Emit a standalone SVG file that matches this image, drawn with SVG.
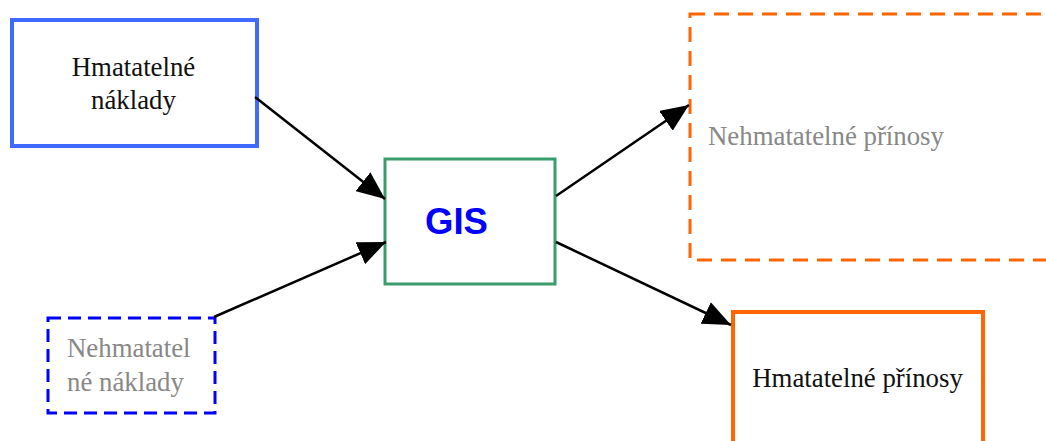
<svg xmlns="http://www.w3.org/2000/svg" width="1046" height="441" viewBox="0 0 1046 441">
  <style>
    .serif { font-family: "Liberation Serif", "Times New Roman", serif; font-size: 26.8px; }
    .dark { fill: #111111; }
    .gray { fill: #888888; }
    .conn { stroke: #000000; stroke-width: 2.5; fill: none; marker-end: url(#arrow); }
  </style>
  <defs>
    <marker id="arrow" viewBox="0 0 28 24" refX="28" refY="12" markerWidth="28" markerHeight="24" markerUnits="userSpaceOnUse" orient="auto">
      <path d="M0,0 L28,12 L0,24 Z" fill="#000000"/>
    </marker>
  </defs>
  <rect width="1046" height="441" fill="#ffffff"/>

  <g id="node-hmatatelne-naklady">
    <rect x="12" y="20" width="245" height="126" fill="none" stroke="#3F6BFF" stroke-width="4"/>
    <text class="serif dark" x="133.5" y="76" text-anchor="middle">Hmatatelné</text>
    <text class="serif dark" x="133.5" y="109" text-anchor="middle">náklady</text>
  </g>

  <g id="node-nehmatatelne-naklady">
    <rect x="48" y="318" width="167" height="95" fill="none" stroke="#0000FF" stroke-width="3" stroke-dasharray="13 7"/>
    <text class="serif gray" x="67" y="357">Nehmatatel</text>
    <text class="serif gray" x="67" y="391">né náklady</text>
  </g>

  <g id="node-gis">
    <rect x="385" y="159" width="170" height="125" fill="none" stroke="#3A9B6C" stroke-width="3"/>
    <text x="456.5" y="234" text-anchor="middle" font-family="Liberation Sans, Arial, sans-serif" font-weight="bold" font-size="36.5" fill="#0000FF">GIS</text>
  </g>

  <g id="node-nehmatatelne-prinosy">
    <rect x="690" y="14" width="380" height="246" fill="none" stroke="#FF6600" stroke-width="3" stroke-dasharray="15 9"/>
    <text class="serif gray" x="708" y="145">Nehmatatelné přínosy</text>
  </g>

  <g id="node-hmatatelne-prinosy">
    <rect x="733" y="312" width="250" height="150" fill="none" stroke="#FF6600" stroke-width="4"/>
    <text class="serif dark" x="857.5" y="387" text-anchor="middle">Hmatatelné přínosy</text>
  </g>

  <g id="connectors">
    <line class="conn" x1="255" y1="97" x2="385" y2="199"/>
    <line class="conn" x1="214" y1="317" x2="386" y2="242"/>
    <line class="conn" x1="556" y1="196" x2="689" y2="105"/>
    <line class="conn" x1="556" y1="242" x2="731" y2="325"/>
  </g>
</svg>
